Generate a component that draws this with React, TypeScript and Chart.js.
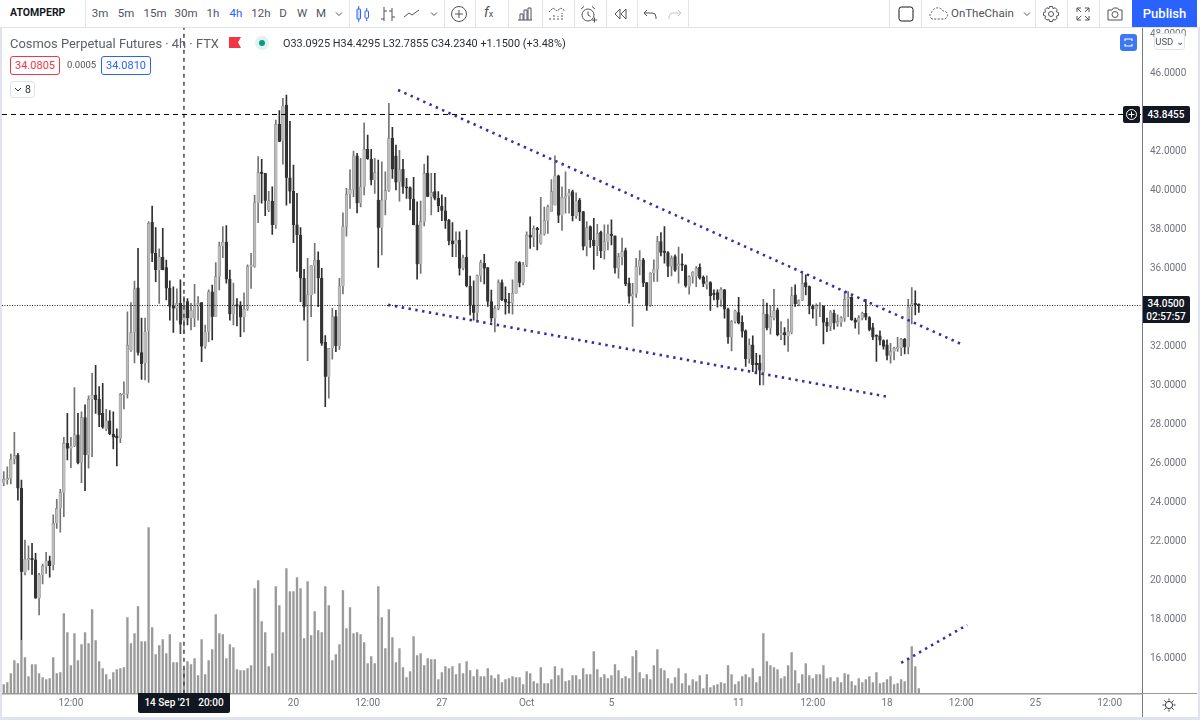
import React, { useEffect, useRef } from "react";
import { Chart, registerables } from "chart.js";

Chart.register(...registerables);

const opens = [
  24.96,25.1,25.17,26.18,26.38,24.67,20.35,21.0,21.08,21.0,
  19.03,20.23,20.66,20.96,20.74,22.88,23.65,24.45,26.98,26.72,
  26.84,27.41,26.0,28.3,26.38,29.24,29.46,29.24,28.52,27.7,
  28.13,27.46,27.36,27.24,29.46,29.5,31.77,32.67,34.96,31.63,
  31.1,32.76,38.31,36.72,35.87,36.52,35.99,34.93,34.0,33.9,
  34.16,33.3,34.25,33.4,33.4,34.0,34.2,31.95,32.7,34.75,
  33.47,35.53,37.1,37.3,35.4,33.6,34.1,34.05,33.45,33.87,
  36.04,36.04,39.32,40.88,40.83,38.95,39.4,38.18,43.34,42.5,
  44.33,40.6,39.9,38.18,37.66,35.44,33.99,34.59,36.09,36.38,
  35.44,32.16,30.4,31.85,33.48,31.97,35.05,38.09,39.75,40.0,
  41.72,39.29,40.14,42.06,41.56,40.48,39.46,38.04,39.46,39.94,
  42.62,41.73,40.4,41.03,40.14,40.09,39.51,38.18,36.16,38.35,
  40.83,39.63,39.89,39.54,39.15,38.91,38.43,37.36,37.19,37.41,
  35.95,36.52,35.05,34.07,33.68,35.58,36.21,35.99,34.25,33.39,
  33.9,35.22,34.36,34.24,34.16,34.67,36.25,35.22,36.13,37.66,
  37.53,38.0,37.24,37.72,38.4,38.86,39.2,40.7,38.66,39.54,
  39.66,39.89,38.64,39.46,38.86,37.07,38.09,37.41,37.1,37.8,
  36.84,37.32,37.71,37.62,35.96,36.53,36.87,35.19,34.51,34.65,
  36.05,36.39,35.23,34.03,35.71,35.91,37.33,36.82,36.76,36.05,
  36.56,36.08,36.18,36.1,35.02,35.53,35.53,36.01,35.5,35.11,
  35.23,34.68,34.71,34.34,34.85,33.86,32.42,33.23,33.69,33.18,
  32.75,31.3,32.03,31.09,31.09,30.61,33.6,32.88,33.4,33.82,
  32.54,32.66,32.49,32.66,34.59,34.12,34.3,35.23,35.02,34.03,
  33.86,34.0,34.03,33.19,32.97,33.65,33.11,33.18,33.4,34.37,
  34.47,33.31,33.18,33.4,33.65,33.43,32.92,32.49,32.49,32.25,
  32.03,31.47,31.69,31.82,31.86,32.32,31.91,33.96,34.13,34.08,
];
const highs = [
  25.53,25.78,26.43,27.54,26.47,25.1,22.02,21.72,21.85,21.34,
  20.31,20.79,21.39,21.2,23.31,24.11,24.62,27.29,28.52,27.29,
  29.84,28.52,28.6,28.95,29.41,30.57,30.98,29.89,30.06,28.72,
  28.66,28.6,27.72,29.54,30.14,33.73,34.2,35.3,36.98,33.4,
  33.4,38.35,39.15,38.04,36.95,38.0,36.38,35.32,35.0,34.9,
  35.36,34.5,34.4,34.16,35.13,34.5,34.2,33.05,34.85,35.1,
  36.25,37.3,38.1,38.15,35.87,35.2,34.4,34.25,34.7,36.13,
  36.72,39.7,41.68,41.55,40.83,39.9,40.14,43.56,44.04,44.67,
  44.84,43.5,41.25,39.8,38.05,35.9,36.47,36.09,37.24,36.8,
  35.95,32.5,31.85,33.9,33.8,35.44,38.8,40.06,41.0,41.97,
  41.85,41.6,43.42,42.79,42.06,41.6,41.5,41.42,40.91,44.42,
  43.19,42.28,42.0,41.54,40.57,40.14,40.62,39.37,39.4,41.3,
  41.73,40.83,40.83,39.89,39.72,39.6,38.47,38.3,37.83,37.83,
  36.64,37.92,35.56,35.32,35.61,36.38,36.67,35.99,34.84,34.0,
  35.36,35.36,35.0,34.67,35.36,36.3,36.3,36.26,37.83,38.6,
  38.13,38.06,39.6,39.1,39.2,40.5,41.73,40.74,40.14,40.91,
  40.0,39.97,39.83,39.54,38.86,38.35,38.13,38.52,38.21,37.87,
  38.18,38.18,38.44,37.62,36.73,37.5,36.99,35.45,35.19,36.47,
  36.87,36.47,35.23,35.74,36.39,37.59,37.79,38.1,36.82,36.59,
  36.65,37.04,36.7,36.13,35.57,35.79,36.05,36.18,35.57,35.57,
  35.28,34.85,34.85,34.97,34.88,33.91,33.28,33.82,34.47,33.52,
  32.8,32.34,32.49,31.6,31.5,34.37,34.17,34.05,34.88,33.91,
  33.23,32.92,33.35,34.99,35.11,34.34,35.79,35.62,35.06,34.08,
  34.13,34.2,34.03,33.4,33.79,33.82,33.57,33.48,34.76,34.76,
  34.51,33.4,33.53,33.71,34.37,33.48,33.14,32.54,32.75,32.29,
  32.29,32.11,31.91,32.42,32.37,32.37,34.37,34.97,34.8,34.13,
];
const lows = [
  24.81,24.88,24.9,25.92,24.07,16.9,20.23,20.49,20.26,19.03,
  18.18,19.77,20.31,20.11,20.49,22.62,22.42,23.22,26.13,25.73,
  26.81,25.92,24.96,24.55,25.7,26.3,28.52,27.84,27.75,27.63,
  27.43,26.69,25.82,27.02,28.74,29.3,31.7,31.1,31.5,30.26,
  30.23,30.1,36.3,35.27,34.16,35.87,34.33,33.3,32.67,33.3,
  32.6,32.6,33.05,32.8,32.96,33.3,31.17,31.85,32.2,32.28,
  33.47,34.85,36.5,35.2,33.3,33.05,33.0,32.45,32.7,33.8,
  34.93,36.0,38.3,39.3,38.66,38.86,37.7,38.0,42.45,41.3,
  39.2,39.3,37.27,35.8,34.25,33.3,31.22,33.47,34.67,33.99,
  32.0,28.86,29.3,31.3,31.68,31.8,34.64,37.6,39.03,39.63,
  38.8,39.1,39.72,41.54,40.23,39.8,36.0,36.64,38.69,39.9,
  40.57,39.97,39.4,39.8,39.54,38.95,38.18,35.4,35.7,38.13,
  39.63,38.69,39.46,38.86,38.4,38.0,37.15,36.55,36.55,35.6,
  35.87,35.0,33.56,33.3,33.22,35.27,35.15,34.0,33.22,32.7,
  33.82,34.3,33.61,33.65,33.61,34.67,35.0,35.1,36.04,36.98,
  37.07,36.9,37.2,37.66,37.75,38.86,39.2,38.3,37.9,38.78,
  38.78,38.38,38.52,38.4,36.9,36.59,37.03,35.9,36.6,36.5,
  36.42,36.9,37.16,35.71,35.45,36.13,35.06,34.17,32.97,34.46,
  35.62,35.02,33.79,34.0,35.28,35.28,36.59,36.22,35.53,35.57,
  35.79,35.19,35.84,34.99,34.63,35.19,35.02,35.4,35.02,34.88,
  33.79,34.34,33.96,34.0,33.4,32.11,31.72,33.14,33.11,32.42,
  30.92,31.09,30.66,30.54,29.98,29.98,32.8,32.58,33.31,32.49,
  32.29,32.03,31.69,32.59,34.0,34.03,34.3,34.59,33.62,33.4,
  33.02,33.48,32.08,32.71,32.76,32.83,32.97,32.97,33.23,33.48,
  33.28,32.88,32.58,33.31,33.31,32.75,32.29,31.18,32.03,31.81,
  31.26,31.09,31.26,31.69,31.47,31.57,31.57,33.11,33.57,33.69,
];
const closes = [
  25.13,25.19,26.16,26.35,24.67,20.4,21.05,21.08,21.0,19.03,
  20.23,20.69,20.96,20.69,22.88,23.65,24.45,26.98,26.72,26.84,
  27.41,25.96,28.3,26.38,29.24,29.46,29.2,28.43,27.8,28.13,
  27.46,27.29,27.24,29.49,29.54,32.0,32.67,34.9,31.63,31.05,
  32.7,38.26,36.72,35.87,36.55,35.87,34.93,34.0,33.9,34.16,
  33.08,34.0,33.4,33.8,34.03,34.16,31.95,32.7,34.75,33.47,
  35.53,37.1,37.3,35.4,33.6,34.07,34.0,33.45,33.87,36.04,
  36.13,39.32,40.86,40.8,39.42,39.42,38.18,43.34,42.45,44.28,
  40.6,39.9,38.18,37.66,35.44,33.99,34.59,36.09,36.38,35.44,
  32.1,30.4,31.85,33.48,31.97,35.05,38.09,39.75,40.0,41.72,
  39.29,40.14,42.06,41.56,40.48,40.86,38.04,39.46,39.94,42.62,
  41.03,40.36,41.0,40.14,40.06,39.51,38.18,36.16,38.35,40.83,
  39.63,39.85,39.54,39.15,38.91,38.4,37.36,37.19,37.41,35.95,
  36.5,35.05,34.04,33.68,35.58,36.25,35.95,34.25,33.39,33.9,
  35.22,34.33,34.21,34.16,34.67,36.25,35.22,36.13,37.66,37.53,
  38.0,37.92,37.72,38.4,39.12,39.89,40.7,38.66,39.6,39.66,
  39.83,38.64,39.42,38.83,37.07,38.04,37.41,37.1,37.75,36.84,
  37.32,37.72,37.62,35.96,36.56,36.82,35.14,34.51,34.65,36.05,
  36.35,35.19,34.03,35.71,35.91,37.33,36.76,36.76,36.05,36.47,
  35.84,36.17,36.1,35.06,35.53,35.76,35.96,35.45,35.16,35.28,
  34.54,34.59,34.34,34.88,33.86,32.42,33.23,33.77,33.14,32.71,
  31.3,32.03,31.0,31.0,30.71,33.62,32.88,33.48,33.79,32.54,
  32.63,32.54,32.71,34.54,34.12,34.3,35.19,34.99,34.03,33.86,
  34.03,34.05,33.18,32.97,33.71,33.14,33.23,33.43,34.37,34.47,
  33.31,33.18,33.43,33.65,33.43,32.8,32.42,32.46,32.25,31.94,
  31.47,31.69,31.86,31.91,32.32,31.91,33.96,34.13,34.08,34.05,
];
const volumes = [
  9,11,20,33,30,53,36,17,29,29,
  20,16,14,15,36,20,21,80,61,28,
  60,33,49,61,50,84,53,32,25,19,
  14,21,24,25,26,76,50,60,87,52,
  52,166,66,39,48,54,40,59,31,31,
  51,25,32,29,35,18,54,19,33,44,
  79,60,59,35,49,46,24,23,23,25,
  28,105,113,72,61,27,40,107,88,61,
  125,102,102,116,105,55,112,58,82,63,
  61,107,88,33,39,49,103,65,86,60,
  61,59,51,30,37,30,107,76,45,84,
  56,31,45,26,16,22,57,38,40,28,
  35,34,34,14,21,27,25,27,19,30,
  20,32,23,17,24,17,17,25,18,15,
  19,11,14,15,17,16,16,9,22,20,
  12,10,26,10,10,14,27,18,25,12,
  13,18,18,14,25,19,19,42,24,16,
  19,15,18,29,23,15,17,15,37,43,
  21,15,19,14,28,44,25,23,15,10,
  16,25,10,20,8,14,12,18,5,19,
  6,8,9,11,10,28,19,9,12,17,
  19,16,25,11,17,60,32,28,26,24,
  15,17,28,41,23,10,19,30,18,15,
  19,19,28,15,16,12,16,11,20,19,
  12,8,15,11,14,17,11,21,10,11,
  14,17,9,10,14,12,35,47,27,5,
];

const priceTicks = [16,18,20,22,24,26,28,30,32,34,36,38,40,42,44,46,48];
const timeTickIndex = [19,82,103,124,148,172,208,229,250,271,292,313];
const timeTickLabels = ["12:00","20","12:00","27","Oct","5","11","12:00","18","12:00","25","12:00"];

const upperTrend = [{ x: 111.6, y: 45.1 }, { x: 271.5, y: 32.03 }];
const lowerTrend = [{ x: 108.8, y: 34.08 }, { x: 250.3, y: 29.36 }];
const volumeTrend = [{ x: 254, y: 15.72 }, { x: 272.7, y: 17.67 }];
const crosshairPrice = 43.8455;
const lastPrice = 34.05;
const crosshairIndex = 51;

const X_MIN = -0.5;
const X_MAX = 322.17;
const Y_MIN = 14.14;
const Y_MAX = 48.28;

const FONT = "Roboto, 'Noto Sans', sans-serif";
const TXT = "#131722";
const ICON = "#50535e";
const SEP = "#e0e3eb";

const abs = (left: number, top: number, extra: React.CSSProperties = {}): React.CSSProperties => ({
  position: "absolute", left, top, whiteSpace: "nowrap", ...extra,
});

const intervals: [string, number, boolean][] = [
  ["3m",100,false],["5m",126,false],["15m",155,false],["30m",186,false],["1h",213,false],
  ["4h",236,true],["12h",261,false],["D",283,false],["W",302,false],["M",321,false],
];
const separators = [85, 349, 444, 475, 508, 542, 574, 606, 637, 688, 889, 921, 1035, 1067, 1099];

function Icon({ x, y = 14, w = 18, h = 18, children }: any) {
  return (
    <svg width={w} height={h} viewBox={`0 0 ${w} ${h}`} fill="none" stroke={ICON} strokeWidth={1}
      style={{ position: "absolute", left: x - w / 2, top: y - h / 2 }}>
      {children}
    </svg>
  );
}

function Toolbar() {
  return (
    <>
      <div style={abs(0, 0, { width: 1200, height: 27, background: "#fff", borderBottom: `1px solid ${SEP}` })} />
      {separators.map((x) => (
        <div key={x} style={abs(x, 0, { width: 1, height: 27, background: SEP })} />
      ))}
      <div style={abs(10, 6, { font: `700 10.5px ${FONT}`, color: TXT })}>ATOMPERP</div>
      {intervals.map(([t, x, on]) => (
        <div key={t} style={abs(x - 15, 6, { width: 30, textAlign: "center", font: `400 11.5px ${FONT}`, color: on ? "#2962ff" : "#50535e" })}>{t}</div>
      ))}
      <Icon x={339} w={10} h={10}><path d="M2 3.5l3 3 3-3" /></Icon>
      <Icon x={363}>
        <g stroke="#2962ff">
          <rect x="3" y="4" width="3.5" height="10" rx="0.5" fill="#cfdcff" />
          <path d="M4.7 1v3M4.7 14v3" />
          <rect x="11" y="6" width="3.5" height="7" rx="0.5" />
          <path d="M12.7 3v3M12.7 13v3" />
        </g>
      </Icon>
      <Icon x={388}><path d="M5 2v14M5 14H2M5 6h3M13 3v13M13 6h-3M13 12h3" /></Icon>
      <Icon x={412}><path d="M1 12l5-4 3 2 7-5" /></Icon>
      <Icon x={434} w={10} h={10}><path d="M2 3.5l3 3 3-3" /></Icon>
      <Icon x={459}><circle cx="9" cy="9" r="7.5" /><path d="M9 5v8M5 9h8" /></Icon>
      <div style={abs(484, 4, { font: `italic 400 14px ${FONT}`, color: ICON })}>f<span style={{ fontSize: 9, fontStyle: "normal" }}>x</span></div>
      <Icon x={525}><path d="M2 15h14M4 15V9h3v6M8 15V5h3v10M12 15V3h3v12" /></Icon>
      <Icon x={557}><path d="M2 15v-3M6 15V9M10 15v-4M14 15V8M1 7l4-4 4 3 4-3 4 3" strokeDasharray="2 1" /></Icon>
      <Icon x={588}><circle cx="9" cy="10" r="6" /><path d="M9 6.5V10l2.5 1.5M2 4l3-2.5M16 4l-3-2.5" /><path d="M13 15h5M15.5 12.5v5" /></Icon>
      <Icon x={621}><path d="M8 4l-5 5 5 5zM14 4l-5 5 5 5z" /></Icon>
      <Icon x={651}><path d="M5 5L2 8l3 3M2 8h8a4 4 0 0 1 4 4v2" /></Icon>
      <Icon x={674}><g stroke="#c8cad0"><path d="M13 5l3 3-3 3M16 8H8a4 4 0 0 0-4 4v2" /></g></Icon>
      <Icon x={906}><rect x="2" y="2" width="14" height="14" rx="2.5" stroke="#131722" /></Icon>
      <Icon x={938} w={22}><path d="M5 14a4 4 0 0 1 0-7 6 6 0 0 1 11-1 4 4 0 0 1 1 8z" strokeDasharray="2 1.5" /></Icon>
      <div style={abs(951, 6, { font: `400 11.5px ${FONT}`, color: "#50535e" })}>OnTheChain</div>
      <Icon x={1027} w={10} h={10}><path d="M2 3.5l3 3 3-3" /></Icon>
      <Icon x={1051}><circle cx="9" cy="9" r="2.5" /><path d="M7.5 1.5h3l.6 2.2 2-1 2.1 2.1-1 2 2.3.7v3l-2.3.6 1 2-2.1 2.1-2-1-.6 2.3h-3l-.6-2.3-2 1-2.1-2.1 1-2-2.3-.6v-3l2.3-.7-1-2 2.1-2.1 2 1z" /></Icon>
      <Icon x={1083}><path d="M3 7V3h4M3 3l4 4M15 7V3h-4M15 3l-4 4M3 11v4h4M3 15l4-4M15 11v4h-4M15 15l-4-4" /></Icon>
      <Icon x={1115}><path d="M2 5h4l1.5-2h4L13 5h3v10H2z" /><circle cx="9" cy="9.5" r="3" /></Icon>
      <div style={abs(1132, 0, { width: 65, height: 27, background: "#2962ff", color: "#fff", font: `500 13px ${FONT}`, textAlign: "center", lineHeight: "27px" })}>Publish</div>
    </>
  );
}

function Overlays() {
  const box = (color: string, border: string): React.CSSProperties => ({
    height: 19, boxSizing: "border-box", width: 50, border: `1px solid ${border}`, borderRadius: 3,
    color, font: `400 11px ${FONT}`, textAlign: "center", lineHeight: "17px", background: "#fff",
  });
  return (
    <>
      <div style={abs(10, 36, { font: `400 12.9px ${FONT}`, color: "#5d606b" })}>Cosmos Perpetual Futures · 4h · FTX</div>
      <svg width="12" height="11" style={{ position: "absolute", left: 229, top: 37 }}>
        <path d="M0 0h12l-3 5.5 3 5.5H0z" fill="#f23645" />
      </svg>
      <div style={abs(255, 36, { width: 14, height: 14, borderRadius: 7, background: "#dff2ee" })} />
      <div style={abs(259, 40, { width: 6, height: 6, borderRadius: 3, background: "#089981" })} />
      <div style={abs(283, 37, { font: `400 10.9px ${FONT}`, color: "#2a2e39" })}>O33.0925 H34.4295 L32.7855 C34.2340 +1.1500 (+3.48%)</div>
      <div style={abs(10, 56, box("#f23645", "#f23645"))}>34.0805</div>
      <div style={abs(67, 59, { font: `400 9.5px ${FONT}`, color: "#50535e" })}>0.0005</div>
      <div style={abs(101, 56, box("#2962ff", "#2962ff"))}>34.0810</div>
      <div style={abs(10, 81, { width: 25, height: 17, boxSizing: "border-box", border: "1px solid #e0e3eb", borderRadius: 3, background: "#fff", font: `400 10.5px ${FONT}`, color: "#2a2e39", lineHeight: "15px", paddingLeft: 14 })}>8</div>
      <svg width="8" height="6" style={{ position: "absolute", left: 14, top: 87 }}><path d="M1 1l3 3 3-3" fill="none" stroke="#2a2e39" /></svg>

      <div style={abs(1120, 34, { width: 17, height: 17, borderRadius: 3, background: "#3b78f5" })} />
      <svg width="11" height="11" style={{ position: "absolute", left: 1123, top: 37 }}><path d="M2 4V2h7v2M2 7v2h7V7" fill="none" stroke="#fff" strokeWidth="1.2" /></svg>
      <div style={abs(1154, 33, { width: 31, height: 17, boxSizing: "border-box", border: "1px solid #e0e3eb", borderRadius: 3, background: "#fff", font: `400 9.5px ${FONT}`, color: "#50535e", lineHeight: "15px", textAlign: "center" })}>USD ⌄</div>

      <div style={abs(1123, 106, { width: 17, height: 17, borderRadius: 2, background: "#131722" })} />
      <svg width="13" height="13" style={{ position: "absolute", left: 1125, top: 108 }}><circle cx="6.5" cy="6.5" r="5" fill="none" stroke="#fff" /><path d="M6.5 3.5v6M3.5 6.5h6" stroke="#fff" /></svg>
      <div style={abs(1142, 106, { width: 48, height: 17, borderRadius: "0 2px 2px 0", background: "#131722", color: "#fff", font: `500 10px ${FONT}`, textAlign: "center", lineHeight: "17px" })}>43.8455</div>
      <div style={abs(1142, 296, { width: 48, height: 27, background: "#131722", color: "#fff", font: `500 10px ${FONT}`, textAlign: "center", lineHeight: "13px", paddingTop: 1, boxSizing: "border-box", borderRadius: "0 2px 2px 0" })}>34.0500<br />02:57:57</div>

      <div style={abs(138, 693, { width: 92, height: 20, background: "#131722", color: "#fff", font: `500 10px ${FONT}`, textAlign: "center", lineHeight: "20px", borderRadius: "0 0 2px 2px" })}>14 Sep '21&nbsp;&nbsp; 20:00</div>

      <div style={abs(1142, 28, { width: 1, height: 689, background: "#787b86" })} />
      <div style={abs(1142, 693, { width: 55, height: 1, background: "#9a9a9a" })} />
      <div style={abs(0, 28, { width: 2, height: 692, background: SEP })} />
      <div style={abs(0, 717, { width: 1200, height: 3, background: SEP })} />
      <div style={abs(1198, 28, { width: 2, height: 692, background: SEP })} />
      <svg width="14" height="14" viewBox="0 0 14 14" style={{ position: "absolute", left: 1162, top: 698 }} fill="none" stroke="#2a2e39">
        <circle cx="7" cy="7" r="3.6" />
        <path d="M7 0.5v2M7 11.5v2M0.5 7h2M11.5 7h2M2.4 2.4l1.4 1.4M10.2 10.2l1.4 1.4M2.4 11.6l1.4-1.4M10.2 3.8l1.4-1.4" />
      </svg>
    </>
  );
}

export default function App() {
  const ref = useRef<HTMLCanvasElement>(null);

  useEffect(() => {
    const idx = opens.map((_, i) => i);
    const isUp = (i: number) => closes[i] >= opens[i];
    const chart = new Chart(ref.current as HTMLCanvasElement, {
      type: "bar",
      data: {
        datasets: [
          {
            type: "line", order: 0, yAxisID: "y", borderColor: "#4527a0", borderWidth: 2.6,
            borderDash: [2.4, 4.5], pointRadius: 0, data: upperTrend,
          },
          {
            type: "line", order: 0, yAxisID: "y", borderColor: "#4527a0", borderWidth: 2.6,
            borderDash: [2.4, 4.5], pointRadius: 0, data: lowerTrend,
          },
          {
            type: "line", order: 0, yAxisID: "y", borderColor: "#4527a0", borderWidth: 2.6,
            borderDash: [2.4, 4.5], pointRadius: 0, data: volumeTrend,
          },
          {
            type: "line", order: 1, yAxisID: "y", borderColor: "#000", borderWidth: 1,
            borderDash: [5, 4], pointRadius: 0,
            data: [{ x: X_MIN, y: crosshairPrice }, { x: X_MAX, y: crosshairPrice }],
          },
          {
            type: "line", order: 1, yAxisID: "y", borderColor: "#222", borderWidth: 1,
            borderDash: [1, 1.5], pointRadius: 0,
            data: [{ x: X_MIN, y: lastPrice }, { x: X_MAX, y: lastPrice }],
          },
          {
            type: "line", order: 1, yAxisID: "y", borderColor: "#444", borderWidth: 1.5,
            borderDash: [4, 4], pointRadius: 0,
            data: [{ x: crosshairIndex, y: Y_MIN }, { x: crosshairIndex, y: Y_MAX }],
          },
          {
            type: "bar", order: 2, yAxisID: "y", grouped: false, barThickness: 2.7, borderWidth: 0.5, minBarLength: 1.5,
            backgroundColor: idx.map((i) => (isUp(i) ? "#bcbcbc" : "#333333")),
            borderColor: idx.map((i) => (isUp(i) ? "#7c7c7c" : "#333333")),
            data: idx.map((i) => ({ x: i, y: [Math.min(opens[i], closes[i]), Math.max(opens[i], closes[i])] })),
          },
          {
            type: "bar", order: 3, yAxisID: "y", grouped: false, barThickness: 1, borderWidth: 0,
            backgroundColor: idx.map((i) => (isUp(i) ? "#747474" : "#303030")),
            data: idx.map((i) => ({ x: i, y: [lows[i], highs[i]] })),
          },
          {
            type: "bar", order: 4, yAxisID: "vol", grouped: false, barThickness: 1.7, borderWidth: 0,
            backgroundColor: "#9a9a9a",
            data: idx.map((i) => ({ x: i, y: volumes[i] })),
          },
        ] as any,
      },
      options: {
        responsive: false,
        animation: false,
        events: [],
        layout: { padding: { left: 2, top: 28, right: 0, bottom: 0 } },
        plugins: { legend: { display: false }, tooltip: { enabled: false } },
        scales: {
          x: {
            type: "linear", min: X_MIN, max: X_MAX, offset: false,
            grid: { display: false, drawTicks: false },
            border: { display: true, color: "#9a9a9a", width: 1.5 },
            afterFit: (s: any) => { s.height = 26.3; },
            afterBuildTicks: (s: any) => { s.ticks = timeTickIndex.map((v) => ({ value: v })); },
            ticks: {
              autoSkip: false, maxRotation: 0, minRotation: 0, padding: 4, color: "#70737e",
              font: { family: FONT, size: 10 },
              callback: (v: any) => timeTickLabels[timeTickIndex.indexOf(v)] ?? "",
            },
          },
          y: {
            type: "linear", position: "right", min: Y_MIN, max: Y_MAX,
            grid: { display: false, drawTicks: false },
            border: { display: false },
            afterFit: (s: any) => { s.width = 58; },
            afterBuildTicks: (s: any) => { s.ticks = priceTicks.map((v) => ({ value: v })); },
            ticks: {
              autoSkip: false, padding: 8, color: "#70737e", labelOffset: 1,
              font: { family: FONT, size: 10 },
              callback: (v: any) => Number(v).toFixed(4),
            },
          },
          vol: {
            type: "linear", display: false, min: 0, max: 665.7,
          },
        },
      } as any,
    });
    return () => chart.destroy();
  }, []);

  return (
    <div style={{ position: "fixed", left: 0, top: 0, width: 1200, height: 720, background: "#fff", overflow: "hidden" }}>
      <canvas ref={ref} width={1200} height={720} style={{ position: "absolute", left: 0, top: 0, width: 1200, height: 720 }} />
      <Toolbar />
      <Overlays />
    </div>
  );
}
